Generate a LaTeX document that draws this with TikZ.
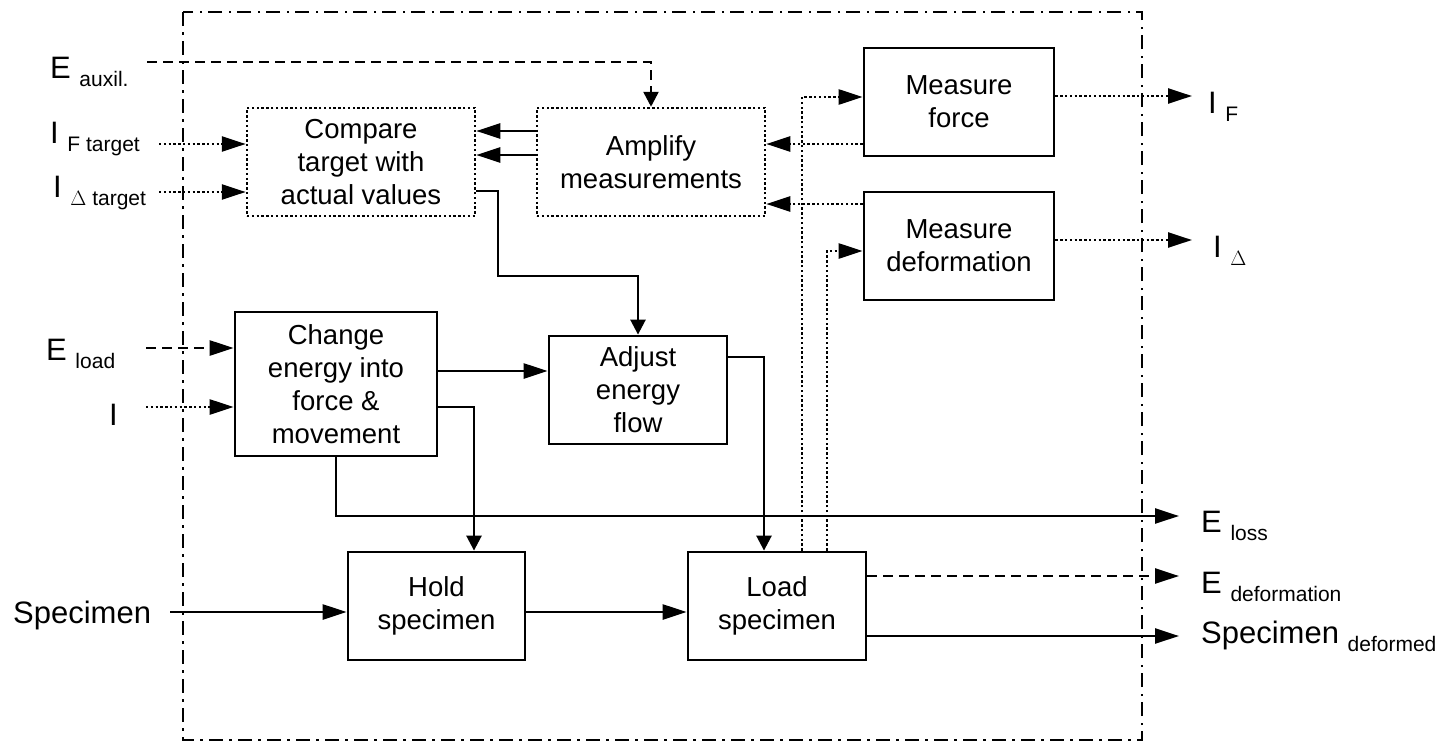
\documentclass[tikz,border=0pt]{standalone}
\usepackage{fontspec}
\setmainfont{Liberation Sans}
\usetikzlibrary{arrows.meta}
\newcommand\sublab[2]{#1 \raisebox{-8pt}{\fontsize{21}{21}\selectfont #2}}
\tikzset{
  block/.style={draw, line width=2.8pt, inner sep=0pt, align=center,
    font=\fontsize{27.5}{33}\selectfont},
  dotblock/.style={block, line width=2.5pt, dash pattern=on 2.4pt off 2.4pt},
  wire/.style={line width=2.6pt},
  dotwire/.style={wire, dash pattern=on 2.4pt off 2.4pt},
  dashwire/.style={wire, dash pattern=on 10pt off 6pt},
  harrow/.style={-{Triangle[length=24pt,width=15pt]}},
  varrow/.style={-{Triangle[length=15pt,width=15pt]}},
  sysframe/.style={line width=2.8pt, dash pattern=on 14pt off 6pt on 2.5pt off 6.5pt},
  lab/.style={anchor=base west, inner sep=0pt, font=\fontsize{31}{31}\selectfont},
}
\begin{document}
\begin{tikzpicture}[x=1pt,y=-1pt]
\useasboundingbox (0,0) rectangle (1448,744);

% system boundary
\draw[sysframe] (183,12) rectangle (1142,740);

% function blocks
\node[dotblock, minimum width=228pt, minimum height=108pt] (comp) at (361,162)
  {Compare\\target with\\actual values};
\node[dotblock, minimum width=228pt, minimum height=108pt] (amp) at (651,162)
  {Amplify\\measurements};
\node[block, minimum width=190pt, minimum height=108pt] (mf) at (959,102)
  {Measure\\force};
\node[block, minimum width=190pt, minimum height=108pt] (md) at (959,246)
  {Measure\\deformation};
\node[block, minimum width=202pt, minimum height=144pt] (chg) at (336,384)
  {Change\\energy into\\force \&\\movement};
\node[block, minimum width=178pt, minimum height=108pt] (adj) at (638,390)
  {Adjust\\energy\\flow};
\node[block, minimum width=177pt, minimum height=108pt] (hold) at (436.5,606)
  {Hold\\specimen};
\node[block, minimum width=178pt, minimum height=108pt] (load) at (777,606)
  {Load\\specimen};

% inputs
\node[lab] (eauxl) at (50,78) {\sublab{E}{auxil.}};
\node[lab] (iftl) at (50,143) {\sublab{I}{F target}};
\node[lab] (idtl) at (53,197) {\sublab{I}{$\Delta$ target}};
\node[lab] (eloadl) at (46,360) {\sublab{E}{load}};
\node[lab] (il) at (109,425) {I};
\node[lab] (specl) at (13,623) {Specimen};

% outputs
\node[lab] (ifl) at (1208,113) {\sublab{I}{F}};
\node[lab] (idl) at (1213,257) {\sublab{I}{$\Delta$}};
\node[lab] (elossl) at (1201,532) {\sublab{E}{loss}};
\node[lab] (edefl) at (1201,593) {\sublab{E}{deformation}};
\node[lab] (specdl) at (1201,643) {\sublab{Specimen}{deformed}};

% free ends of the connectors
\coordinate (eaux) at (147,62);
\coordinate (ift) at (159,144);
\coordinate (idt) at (159,192);
\coordinate (eload) at (146,348);
\coordinate (iin) at (146,407);
\coordinate (spec) at (170,612);
\coordinate (ifout) at (1192,96);
\coordinate (idout) at (1192,240);
\coordinate (elossout) at (1179,516);
\coordinate (edefout) at (1179,576);
\coordinate (specout) at (1179,636);

% auxiliary energy
\draw[dashwire, varrow] (eaux) -| (amp.north);

% target values
\draw[dotwire, harrow] (ift) -- (ift -| comp.west);
\draw[dotwire, harrow] (idt) -- (idt -| comp.west);

% amplified measurements to comparison
\draw[wire, harrow] (amp.west |- 0,131) -- (comp.east |- 0,131);
\draw[wire, harrow] (amp.west |- 0,155) -- (comp.east |- 0,155);

% measured signals to amplifier
\draw[dotwire, harrow] (mf.west |- 0,144) -- (amp.east |- 0,144);
\draw[dotwire, harrow] (md.west |- 0,204) -- (amp.east |- 0,204);

% specimen loading picked up by the sensors
\draw[dotwire, harrow] (load.north -| 802,0) |- (mf.west |- 0,97);
\draw[dotwire, harrow] (load.north -| 827,0) |- (md.west |- 0,251);

% sensor outputs
\draw[dotwire, harrow] (mf.east |- ifout) -- (ifout);
\draw[dotwire, harrow] (md.east |- idout) -- (idout);

% control signal to energy adjustment
\draw[wire, varrow] (comp.east |- 0,191) -- (498,191) -- (498,276) -| (adj.north);

% energy and information into the drive
\draw[dashwire, harrow] (eload) -- (eload -| chg.west);
\draw[dotwire, harrow] (iin) -- (iin -| chg.west);

% drive outputs
\draw[wire, harrow] (chg.east |- 0,371) -- (adj.west |- 0,371);
\draw[wire, varrow] (chg.east |- 0,407) -| (hold.north -| 474,0);
\draw[wire, harrow] (chg.south) |- (elossout);

% adjusted energy to loading
\draw[wire, varrow] (adj.east |- 0,357) -| (load.north -| 764,0);

% specimen flow
\draw[wire, harrow] (spec) -- (spec -| hold.west);
\draw[wire, harrow] (hold.east |- spec) -- (load.west |- spec);
\draw[dashwire, harrow] (load.east |- edefout) -- (edefout);
\draw[wire, harrow] (load.east |- specout) -- (specout);
\end{tikzpicture}
\end{document}
